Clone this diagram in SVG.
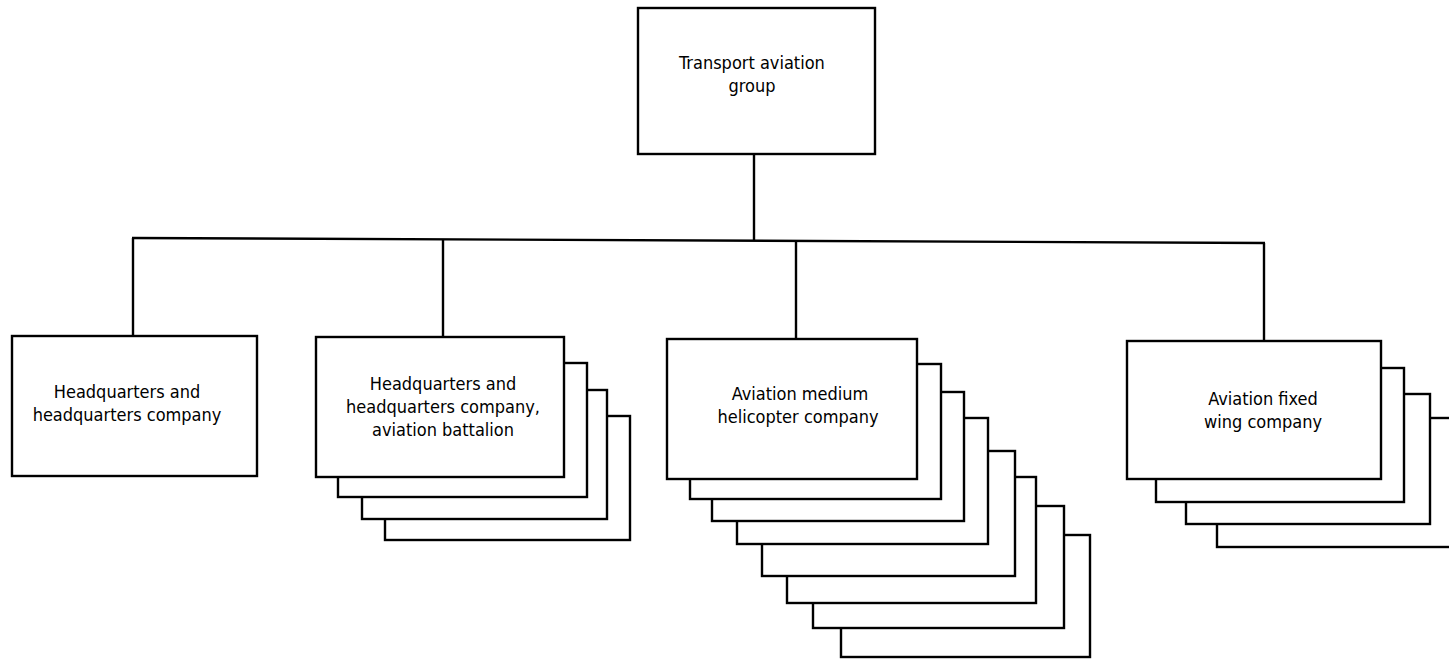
<svg xmlns="http://www.w3.org/2000/svg" width="1449" height="660" viewBox="0 0 1449 660">
<style>
  .box { fill: #fff; stroke: #000; stroke-width: 2.4; }
  .conn { fill: none; stroke: #000; stroke-width: 2.4; }
  text { font-family: "DejaVu Sans Condensed", "DejaVu Sans", sans-serif; font-stretch: condensed; font-size: 18px; fill: #000; text-anchor: middle; }
</style>
<rect width="1449" height="660" fill="#fff"/>
<g id="connectors">
  <line class="conn" x1="754" y1="154" x2="754" y2="241"/>
  <line class="conn" x1="132" y1="238" x2="1265" y2="243"/>
  <polyline class="conn" points="133,238 133,336"/>
  <line class="conn" x1="443" y1="239.4" x2="443" y2="337"/>
  <line class="conn" x1="796" y1="240.9" x2="796" y2="339"/>
  <polyline class="conn" points="1264,243 1264,341"/>
</g>
<g id="transport-aviation-group">
  <rect class="box" x="638" y="8" width="237" height="146"/>
  <text x="752" y="69">Transport aviation</text>
  <text x="752" y="92">group</text>
</g>
<g id="hq-company">
  <rect class="box" x="12" y="336" width="245" height="140"/>
  <text x="127" y="398">Headquarters and</text>
  <text x="127" y="421">headquarters company</text>
</g>
<g id="hq-battalion">
  <rect class="box" x="385" y="416" width="245" height="124"/>
  <rect class="box" x="362" y="390" width="245" height="129"/>
  <rect class="box" x="338" y="363" width="249" height="134"/>
  <rect class="box" x="316" y="337" width="248" height="140"/>
  <text x="443" y="390">Headquarters and</text>
  <text x="443" y="413">headquarters company,</text>
  <text x="443" y="436">aviation battalion</text>
</g>
<g id="medium-helicopter-company">
  <rect class="box" x="841" y="535" width="249" height="122"/>
  <rect class="box" x="813" y="506" width="251" height="122"/>
  <rect class="box" x="787" y="477" width="249" height="126"/>
  <rect class="box" x="762" y="451" width="253" height="125"/>
  <rect class="box" x="737" y="418" width="251" height="126"/>
  <rect class="box" x="712" y="392" width="252" height="129"/>
  <rect class="box" x="690" y="364" width="251" height="135"/>
  <rect class="box" x="667" y="339" width="250" height="140"/>
  <text x="800" y="400">Aviation medium</text>
  <text x="798" y="423">helicopter company</text>
</g>
<g id="fixed-wing-company">
  <rect class="box" x="1217" y="418" width="245" height="129"/>
  <rect class="box" x="1186" y="394" width="244" height="130"/>
  <rect class="box" x="1156" y="368" width="248" height="134"/>
  <rect class="box" x="1127" y="341" width="254" height="138"/>
  <text x="1263" y="405">Aviation fixed</text>
  <text x="1263" y="428">wing company</text>
</g>
</svg>
